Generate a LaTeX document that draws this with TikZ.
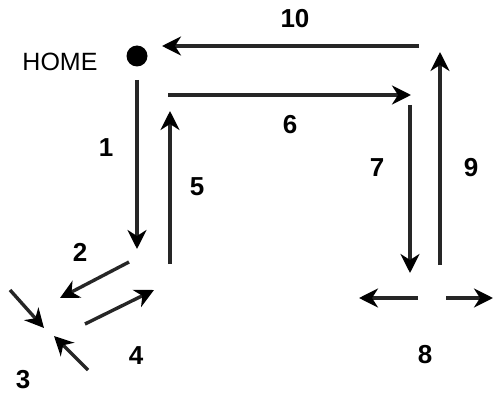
\documentclass[tikz,border=0pt]{standalone}
\usepackage{fontspec}
\setmainfont{Liberation Sans}
\usetikzlibrary{arrows.meta}
\begin{document}
\begin{tikzpicture}[x=1pt,y=-1pt,
  move/.style={line width=3.4pt,draw=black!85,
    -{Stealth[length=19pt,width=19pt,inset=6pt,color=black]}},
  num/.style={font=\fontsize{26}{26}\selectfont\bfseries,inner sep=0pt},
  lbl/.style={font=\fontsize{25}{25}\selectfont,inner sep=0pt}]
\useasboundingbox (0,0) rectangle (493,393);

% home marker
\node[circle,fill=black,minimum size=21pt,inner sep=0pt] (home) at (137,56) {};
\node[lbl] (homelbl) at (60,61.5) {HOME};

% endpoints of the moves
\coordinate (a1) at (137,80);   \coordinate (b1) at (137,249);
\coordinate (a2) at (129,262);  \coordinate (b2) at (60,298);
\coordinate (a3) at (10,290);   \coordinate (b3) at (44,328);
\coordinate (c3) at (88,370);   \coordinate (d3) at (54,336);
\coordinate (a4) at (85,324);   \coordinate (b4) at (154,290);
\coordinate (a5) at (170,264);  \coordinate (b5) at (170,111);
\coordinate (a6) at (168,95);   \coordinate (b6) at (411,95);
\coordinate (a7) at (410,105);  \coordinate (b7) at (410,273);
\coordinate (a8) at (418,298);  \coordinate (b8) at (359,298);
\coordinate (c8) at (446,298);  \coordinate (d8) at (493,298);
\coordinate (a9) at (440,265);  \coordinate (b9) at (440,52);
\coordinate (a10) at (419,46);  \coordinate (b10) at (162,46);

\draw[move] (a1) -- (b1);
\draw[move] (a2) -- (b2);
\draw[move] (a3) -- (b3);
\draw[move] (c3) -- (d3);
\draw[move] (a4) -- (b4);
\draw[move] (a5) -- (b5);
\draw[move] (a6) -- (b6);
\draw[move] (a7) -- (b7);
\draw[move] (a8) -- (b8);
\draw[move] (c8) -- (d8);
\draw[move] (a9) -- (b9);
\draw[move] (a10) -- (b10);

% step numbers
\node[num] (n1) at (106,148) {1};
\node[num] (n2) at (80,252) {2};
\node[num] (n3) at (23,380) {3};
\node[num] (n4) at (136,356) {4};
\node[num] (n5) at (197,187) {5};
\node[num] (n6) at (290,125) {6};
\node[num] (n7) at (377,168) {7};
\node[num] (n8) at (425,355) {8};
\node[num] (n9) at (471,168) {9};
\node[num] (n10) at (295,19) {10};
\end{tikzpicture}
\end{document}
